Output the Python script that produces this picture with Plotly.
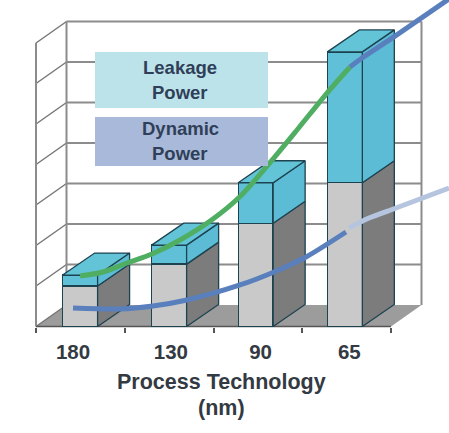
import plotly.graph_objects as go

# ---- data (value units = one grid step) ----
categories = ["180", "130", "90", "65"]
bar_centers = [0.497, 1.50, 2.475, 3.48]
label_centers = [0.417, 1.52, 2.53, 3.53]
dynamic_bar = [1.00, 1.54, 2.55, 3.55]
leakage_bar = [0.27, 0.47, 1.00, 3.23]
grid_values = [0, 1, 2, 3, 4, 5, 6, 7]
x_ticks = [0, 1, 2, 3, 4]

green_x = [0.496, 0.755, 1.025, 1.307, 1.623, 1.994, 2.299, 2.614, 2.941, 3.279, 3.538]
green_y = [1.247, 1.346, 1.568, 1.79, 2.136, 2.654, 3.21, 3.988, 4.852, 5.765, 6.407]
blue_top_x = [3.538, 3.673, 4.011, 4.654]
blue_top_y = [6.407, 6.63, 7.12, 8.09]
blue_low_x = [0.417, 0.946, 1.318, 1.701, 2.299, 2.682, 3.042, 3.493]
blue_low_y = [0.457, 0.432, 0.506, 0.654, 1.025, 1.346, 1.716, 2.333]
light_x = [3.527, 3.752, 4.056, 4.654]
light_y = [2.43, 2.679, 2.926, 3.42]

# ---- layout of the pseudo-3D scene ----
W, H = 449, 433
X0, UX = 36.0, 88.75      # pixel of x=0, pixels per x unit
Y0, UY = 326.5, 40.5      # pixel of y=0, pixels per y unit
XR = [-X0 / UX, (W - X0) / UX]
YR = [(Y0 - H) / UY, Y0 / UY]
DX, DY = 30.5 / UX, 21.5 / UY   # wall depth in data units
BDX, BDY = 32 / UX, 22 / UY     # bar depth in data units
BAR_W = 0.394

WALL = "#8c8c8c"
FLOOR = "#9c9c9c"
EDGE = "#1d4250"
CY_FRONT, CY_SIDE, CY_TOP = "#5fc0d8", "#5cbcd5", "#63c4d8"
GR_FRONT, GR_SIDE = "#c9c9c9", "#7c7c7c"
TEXT = "#333a42"
FONT = "Liberation Sans"


def path(points):
    return "M " + " L ".join(f"{a:.4f},{b:.4f}" for a, b in points) + " Z"


def seg(x0, y0, x1, y1, color=WALL, width=2):
    return dict(type="line", x0=x0, y0=y0, x1=x1, y1=y1, xref="x", yref="y",
                layer="below", line=dict(color=color, width=width))


top_v = grid_values[-1]
right = x_ticks[-1]
shapes = [dict(type="path", xref="x", yref="y", layer="below",
               path=path([(0, 0), (DX, DY), (right + DX, DY), (right, 0)]),
               fillcolor=FLOOR, line=dict(width=0))]
for v in grid_values[1:]:
    shapes.append(seg(DX, v + DY, right + DX, v + DY))
for v in grid_values:
    shapes.append(seg(0, v, DX, v + DY, color="#777777", width=1.5))
shapes += [seg(0, 0, 0, top_v, color=WALL),
           seg(DX, DY, DX, top_v + DY, color=WALL),
           seg(right + DX, DY, right + DX, top_v + DY, color=WALL),
           seg(0, 0, right, 0, color="#555555", width=1.5)]

fig = go.Figure()
line = dict(color=EDGE, width=1.3)
fig.add_bar(x=bar_centers, y=dynamic_bar, width=BAR_W, name="Dynamic Power",
            marker=dict(color=GR_FRONT, line=line))
fig.add_bar(x=bar_centers, y=leakage_bar, width=BAR_W, name="Leakage Power",
            marker=dict(color=CY_FRONT, line=line))


def poly(points, color):
    xs = [p[0] for p in points] + [points[0][0]]
    ys = [p[1] for p in points] + [points[0][1]]
    fig.add_scatter(x=xs, y=ys, mode="lines", fill="toself", fillcolor=color,
                    line=line, hoverinfo="skip")


for c, g, l in zip(bar_centers, dynamic_bar, leakage_bar):
    r = c + BAR_W / 2
    a = c - BAR_W / 2
    t = g + l
    poly([(r, 0), (r + BDX, BDY), (r + BDX, g + BDY), (r, g)], GR_SIDE)
    poly([(r, g), (r + BDX, g + BDY), (r + BDX, t + BDY), (r, t)], CY_SIDE)
    poly([(a, t), (r, t), (r + BDX, t + BDY), (a + BDX, t + BDY)], CY_TOP)

for xs, ys, col in [(green_x, green_y, "#4fae62"),
                    (blue_top_x, blue_top_y, "#5a7fbd"),
                    (light_x, light_y, "#b6c5df"),
                    (blue_low_x, blue_low_y, "#5a7fbd")]:
    fig.add_scatter(x=xs, y=ys, mode="lines", hoverinfo="skip",
                    line=dict(color=col, width=5, shape="spline", smoothing=0.8))


def px_x(p):
    return (p - X0) / UX


def px_y(p):
    return (Y0 - p) / UY


for y0, y1, col in [(52, 108, "#bde3ea"), (117, 166, "#a9b9d9")]:
    shapes.append(dict(type="rect", xref="x", yref="y", layer="above",
                       x0=px_x(95), x1=px_x(268), y0=px_y(y0), y1=px_y(y1),
                       fillcolor=col, line=dict(width=0)))

annotations = []
for txt, py in [("Leakage", 67), ("Power", 92), ("Dynamic", 128), ("Power", 153)]:
    annotations.append(dict(text=f"<b>{txt}</b>", x=px_x(180), y=px_y(py), xref="x", yref="y",
                            showarrow=False, font=dict(family=FONT, size=18.5, color="#2f3f58")))
for txt, py in [("Process Technology", 381.5), ("(nm)", 407.5)]:
    annotations.append(dict(text=f"<b>{txt}</b>", x=px_x(221), y=px_y(py), xref="x", yref="y",
                            showarrow=False, font=dict(family=FONT, size=21.5, color=TEXT)))

fig.update_layout(
    width=W, height=H, margin=dict(l=0, r=0, t=0, b=0),
    paper_bgcolor="white", plot_bgcolor="white",
    barmode="stack", showlegend=False, shapes=shapes, annotations=annotations,
    xaxis=dict(range=XR, domain=[0, 1], anchor="free", position=(H - Y0) / H,
               showgrid=False, zeroline=False, showline=False,
               tickmode="array", tickvals=label_centers, ticktext=categories,
               ticks="", ticklabelstandoff=11,
               tickfont=dict(family=FONT, size=20.5, color=TEXT, weight="bold"),
               minor=dict(tickmode="array", tickvals=x_ticks, ticks="outside",
                          ticklen=5, tickwidth=1.5, tickcolor="#555555")),
    yaxis=dict(range=YR, domain=[0, 1], visible=False, showgrid=False, zeroline=False),
)
fig.write_html("out.html", config=dict(displayModeBar=False),
               post_script="document.body.style.margin='0';document.documentElement.style.overflow='hidden';")
